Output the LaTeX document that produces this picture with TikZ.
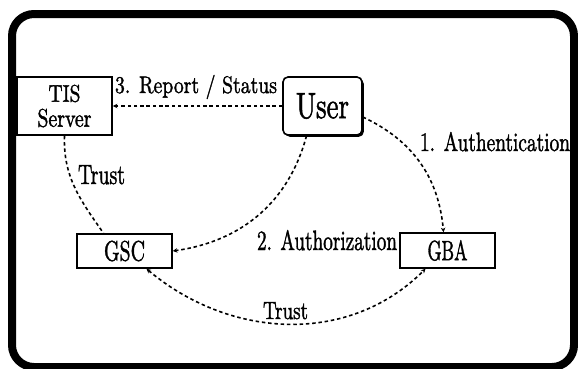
\documentclass[tikz,border=0pt]{standalone}
\usepackage{graphicx}
\usepackage{fontspec}
\setmainfont{lmroman10-regular.otf}[FakeBold=1.6]
\usetikzlibrary{arrows.meta,calc,shadows}
\newcommand{\rtx}[3]{\resizebox{#1pt}{#2pt}{#3}}
\begin{document}
\begin{tikzpicture}[x=1pt,y=-1pt,
  box/.style={draw=black,line width=1.6pt,inner sep=0pt,minimum width=95pt,fill=white},
  lbl/.style={inner sep=0pt,anchor=base},
  dl/.style={line width=1.6pt,dash pattern=on 3.5pt off 2.8pt},
  tip/.style={-{Stealth[length=4.5pt,width=4.5pt]}},
  tips/.style={{Stealth[length=4.5pt,width=4.5pt]}-{Stealth[length=4.5pt,width=4.5pt]}}]
\useasboundingbox (0,0) rectangle (578,368);
\draw[line width=8pt,rounded corners=22pt] (12,14) rectangle (574,367);
% nodes
\node[box,minimum height=58pt,align=center,font=\fontsize{10}{25}\selectfont] (tis) at (64.5,106) {\rtx{32}{17}{TIS}\\\rtx{54}{18}{Server}};
\node[box,minimum width=79pt,minimum height=58pt,rounded corners=5pt,
  drop shadow={shadow xshift=1.8pt,shadow yshift=-1.8pt,opacity=1,fill=black}] (user) at (322.5,106) {\rtx{53}{25}{User}};
\node[box,minimum height=34pt] (gsc) at (124.5,251) {\rtx{41}{20}{GSC}};
\node[box,minimum height=35pt] (gba) at (447.5,250.5) {\rtx{40}{20}{GBA}};
% labels
\node[lbl] (lrep) at (196,93) {\rtx{162}{18}{3. Report / Status}};
\node[lbl] (lauth) at (495,151) {\rtx{150}{19}{1. Authentication}};
\node[lbl] (lauthz) at (327,250) {\rtx{140}{20}{2. Authorization}};
\node[lbl] (ltr1) at (101.5,184) {\rtx{47}{19}{Trust}};
\node[lbl] (ltr2) at (285.5,319) {\rtx{45}{17}{Trust}};
% connectors
\draw[dl,tip] (user.west) -- (tis.east);
\draw[dl,tip] ($(user.east)+(0,11)$) to[out=-25,in=95] ($(gba.north)+(-4,0)$);
\draw[dl,tip] ($(user.south)+(-16,0)$) to[out=-105,in=8] (gsc.east);
\draw[dl] (tis.south) to[out=-92,in=125] ($(gsc.north)+(-21,0)$);
\draw[dl,tips] ($(gsc.south)+(22,0)$) to[out=-40,in=-135] ($(gba.south)+(-22,0)$);
\end{tikzpicture}
\end{document}
